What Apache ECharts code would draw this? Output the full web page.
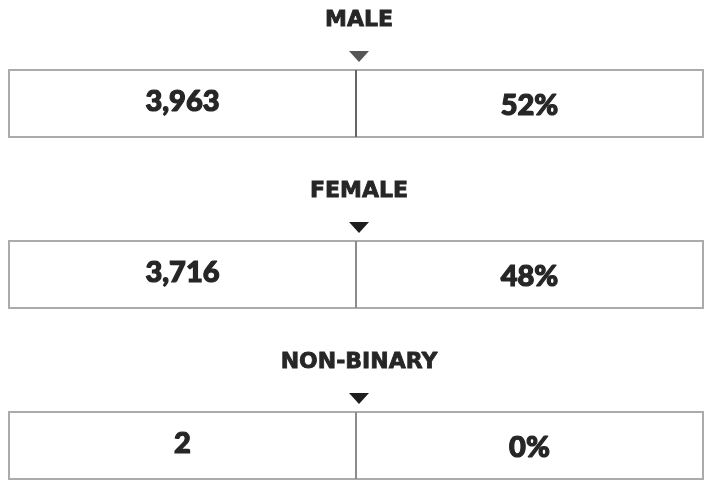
<!DOCTYPE html>
<html>
<head>
<meta charset="utf-8">
<script src="https://cdn.jsdelivr.net/npm/echarts@6/dist/echarts.min.js"></script>
<style>
  html, body { margin: 0; padding: 0; background: #ffffff; }
  #chart { width: 705px; height: 483px; }
</style>
</head>
<body>
<div id="chart"></div>
<script>
const genders = ['MALE', 'FEMALE', 'NON-BINARY'];
const counts = [3963, 3716, 2];
const shares = [52, 48, 0];

const chart = echarts.init(document.getElementById('chart'));

const BOX_H = 67;
const INK = '#262626';
const VALUE_FONT = '900 29px Lato, "DejaVu Sans", sans-serif';
const LABEL_FONT = 'bold 22px "DejaVu Sans", Lato, sans-serif';

function renderRow(params, api) {
  const row = api.value(1);
  const left = api.coord([0, row]);
  const mid = api.coord([0.5, row]);
  const right = api.coord([1, row]);
  const q1 = api.coord([0.25, row]);
  const q3 = api.coord([0.75, row]);
  const top = left[1];
  const cx = mid[0] + 3;
  const triColor = row === 0 ? '#555555' : '#1e1e1e';

  return {
    type: 'group',
    children: [
      // outer box
      {
        type: 'rect',
        shape: { x: left[0], y: top, width: right[0] - left[0], height: BOX_H },
        style: { fill: 'none', stroke: '#ababab', lineWidth: 2 }
      },
      // divider
      {
        type: 'line',
        shape: { x1: mid[0], y1: top, x2: mid[0], y2: top + BOX_H },
        style: { stroke: row === 0 ? '#666666' : '#8c8c8c', lineWidth: 2 }
      },
      // pointer
      {
        type: 'polygon',
        shape: { points: [[cx - 10, top - 19], [cx + 10, top - 19], [cx, top - 8]] },
        style: { fill: triColor }
      },
      // category label
      {
        type: 'text',
        style: {
          x: cx, y: top - 50,
          text: genders[row],
          fill: INK, stroke: INK, lineWidth: 0.8,
          font: LABEL_FONT,
          align: 'center', verticalAlign: 'middle'
        }
      },
      // count
      {
        type: 'text',
        style: {
          x: q1[0], y: top + BOX_H / 2 - 2,
          text: api.value(2).toLocaleString('en-US'),
          fill: INK, stroke: INK, lineWidth: 1.2,
          font: VALUE_FONT,
          align: 'center', verticalAlign: 'middle'
        }
      },
      // share
      {
        type: 'text',
        style: {
          x: q3[0], y: top + BOX_H / 2 + 2,
          text: api.value(3) + '%',
          fill: INK, stroke: INK, lineWidth: 1.2,
          font: VALUE_FONT,
          align: 'center', verticalAlign: 'middle'
        }
      }
    ]
  };
}

chart.setOption({
  backgroundColor: '#ffffff',
  animation: false,
  grid: { left: 9, right: 2, top: 70, height: 342 },
  xAxis: { type: 'value', min: 0, max: 1, show: false },
  yAxis: { type: 'value', min: 0, max: 2, inverse: true, show: false },
  series: [
    {
      type: 'custom',
      renderItem: renderRow,
      clip: false,
      encode: { x: 0, y: 1 },
      data: genders.map((g, i) => [0, i, counts[i], shares[i]])
    }
  ]
});
</script>
</body>
</html>
